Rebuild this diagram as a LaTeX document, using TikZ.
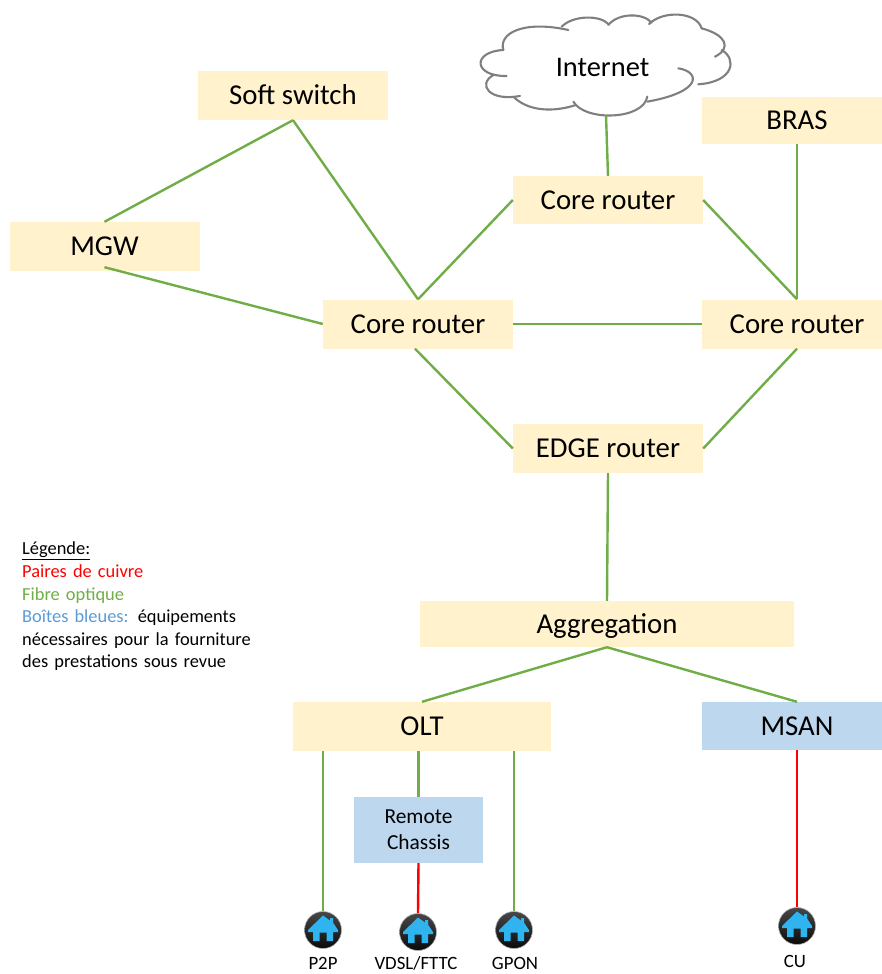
\documentclass[tikz,border=0pt]{standalone}
\usepackage{fontspec}
\setmainfont{Carlito}
\usetikzlibrary{calc,positioning}

\definecolor{boxyellow}{HTML}{FFF2CC}
\definecolor{boxblue}{HTML}{BDD7EE}
\definecolor{fibregreen}{HTML}{70AD47}
\definecolor{copperred}{HTML}{FF0000}
\definecolor{legendblue}{HTML}{5B9BD5}
\definecolor{cloudgray}{HTML}{7F7F7F}
\definecolor{houseblue}{HTML}{2FB4F0}

\tikzset{
  device/.style={fill=boxyellow,minimum width=190pt,minimum height=49pt,inner sep=0pt,text height=22pt,text depth=4pt,font=\fontsize{28.8}{32}\selectfont},
  access/.style={device,fill=boxblue},
  fibre/.style={draw=fibregreen,line width=2.4pt},
  copper/.style={draw=copperred,line width=2.4pt},
  home/.style={circle,minimum size=37pt,inner sep=0pt,draw=gray!60,line width=0.6pt,top color=black!72,bottom color=black!96,
    path picture={
      \fill[houseblue,shift={(path picture bounding box.center)}]
        (0,-14.5) -- (7,-9.5) -- (7,-12) -- (10,-12) -- (10,-7.5) -- (15,0) -- (15,2) -- (10,2) -- (10,11)
        -- (3.5,11) -- (3.5,2.5) -- (-3.5,2.5) -- (-3.5,11) -- (-10,11) -- (-10,2) -- (-15,2) -- (-15,0) -- cycle;
    }},
  homelabel/.style={inner sep=0pt,font=\fontsize{18.8}{20}\selectfont}
}

\begin{document}
\begin{tikzpicture}[x=1pt,y=-1pt]
  \useasboundingbox (0,0) rectangle (881,974);

  % cloud, in the units of a 3x crop
  \begin{scope}[shift={(470,0)},x=0.3333pt,y=-0.3333pt,draw=cloudgray,line width=2.1pt,line cap=round]
    \draw (100,150) .. controls (85,100) and (160,60) .. (295,90);
    \draw (275,80) .. controls (310,45) and (390,45) .. (415,72);
    \draw (415,75) .. controls (445,38) and (520,38) .. (545,68);
    \draw (537,72) .. controls (580,30) and (680,35) .. (695,85);
    \draw (695,85) .. controls (770,105) and (785,145) .. (735,170);
    \draw (755,150) .. controls (800,175) and (795,245) .. (685,253);
    \draw (625,205) .. controls (690,215) and (700,275) .. (532,305);
    \draw (532,290) .. controls (520,360) and (345,365) .. (310,305);
    \draw (318,315) .. controls (240,340) and (170,330) .. (130,290);
    \draw (150,288) .. controls (60,305) and (20,255) .. (70,225);
    \draw (110,228) .. controls (10,230) and (5,155) .. (100,150);
  \end{scope}

  \node[font=\fontsize{28.4}{32}\selectfont] (internet) at (602.5,67) {Internet};
  \coordinate (cloudfoot) at (606,115);

  \node[device] (softswitch) at (293,95.5) {Soft switch};
  \node[device] (mgw) at (104.5,246.5) {MGW};
  \node[device] (coreleft) at (418,324) {Core router};
  \node[device] (coreright) [right of=coreleft,node distance=379pt] {Core router};
  \node[device,minimum height=48pt] (coretop) at (608,200) {Core router};
  \node[device,minimum height=47pt] (bras) at (797,120.5) {BRAS};
  \node[device] (edgerouter) at (608,448.5) {EDGE router};
  \node[device,minimum width=374pt,minimum height=46pt] (aggregation) at (607,624) {Aggregation};
  \node[device,minimum width=258pt] (olt) at (422,726.5) {OLT};
  \node[access,minimum height=48pt] (msan) at (797,726) {MSAN};
  \node[access,minimum width=129pt,minimum height=66pt,align=center,text height=,text depth=,font=\fontsize{21.4}{26}\selectfont] (remote) at (418.5,830) {Remote\\Chassis};

  \node[home] (p2p) at (323,930) {};
  \node[home] (vdsl) at (418,932) {};
  \node[home] (gpon) at (514,930) {};
  \node[home] (cu) at (797,926) {};

  \node[homelabel] (p2plabel) [below of=p2p,node distance=33.5pt] {P2P};
  \node[homelabel] (vdsllabel) [below of=vdsl,node distance=31.5pt,xshift=-2pt] {VDSL/FTTC};
  \node[homelabel] (gponlabel) [below of=gpon,node distance=33.5pt,xshift=1pt] {GPON};
  \node[homelabel] (culabel) [below of=cu,node distance=35pt,xshift=-2pt] {CU};

  \node[anchor=north west,inner sep=0pt,text width=260pt,align=left,font=\fontsize{18.4}{22.6}\selectfont] (legend) at (22,542)
    {\underline{Légende:}\\
     \textcolor{copperred}{Paires de cuivre}\\
     \textcolor{fibregreen}{Fibre optique}\\
     \textcolor{legendblue}{Boîtes bleues:} équipements\\
     nécessaires pour la fourniture\\
     des prestations sous revue};

  \path (softswitch.south) edge[fibre] (mgw.north)
        (softswitch.south) edge[fibre] (coreleft.north)
        ($(mgw.south)+(0,-4)$) edge[fibre] (coreleft.west)
        (coretop.west) edge[fibre] (coreleft.north)
        (coretop.east) edge[fibre] (coreright.north)
        (cloudfoot) edge[fibre] (coretop.north)
        (bras.south) edge[fibre] (coreright.north)
        (coreleft.east) edge[fibre] (coreright.west)
        ($(coreleft.south)+(-3,0)$) edge[fibre] (edgerouter.west)
        (coreright.south) edge[fibre] (edgerouter.east)
        (edgerouter.south) edge[fibre] (aggregation.north)
        (aggregation.south) edge[fibre] (olt.north)
        (aggregation.south) edge[fibre] (msan.north)
        (olt.south -| p2p.north) edge[fibre] (p2p.north)
        (olt.south -| remote.north) edge[fibre] (remote.north)
        (olt.south -| gpon.north) edge[fibre] (gpon.north)
        (remote.south) edge[copper] (vdsl.north)
        (msan.south) edge[copper] (cu.north)
        ;
\end{tikzpicture}
\end{document}
